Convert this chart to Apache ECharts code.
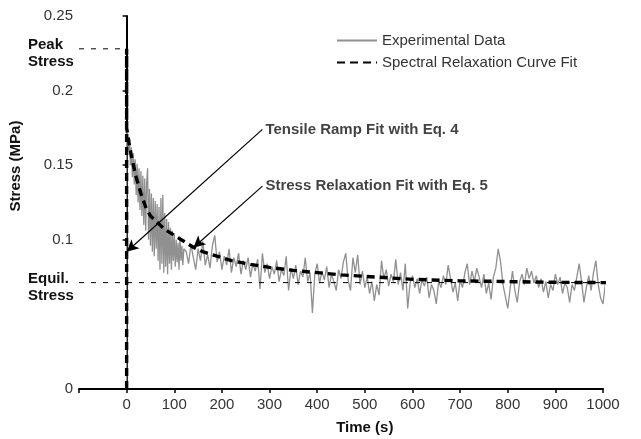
<!DOCTYPE html>
<html>
<head>
<meta charset="utf-8">
<script src="https://cdn.jsdelivr.net/npm/echarts@6/dist/echarts.min.js"></script>
<style>html,body{margin:0;padding:0;background:#fff;}#c{width:641px;height:439px;}</style>
</head>
<body>
<div id="c"></div>
<script>
// ---- data ----
const xTicks = [0,100,200,300,400,500,600,700,800,900,1000];
const yTicks = [0,0.1,0.15,0.2,0.25];
const peakStress = 0.228;
const equilStress = 0.0713;

const expTime = [0,0,2,4,6,8,10,12,14,16,18,20,22,24,26,28,30,32,34,36,38,40,42,44,46,48,50,52,54,56,58,60,62,64,66,68,70,72,74,76,78,80,82,84,86,88,90,92,94,96,98,100,102,104,106,108,110,112,114,116,118,120,
125,130,135,140,145,150,155,160,165,170,175,180,185,190,195,200,205,210,215,220,225,230,235,240,245,250,255,260,265,270,275,280,285,290,295,300,
305,310,315,320,325,330,335,340,345,350,355,360,365,370,375,380,385,390,395,400,405,410,415,420,425,430,435,440,445,450,455,460,465,470,475,480,485,490,495,500,
505,510,515,520,525,530,535,540,545,550,555,560,565,570,575,580,585,590,595,600,605,610,615,620,625,630,635,640,645,650,655,660,665,670,675,680,685,690,695,700,
705,710,715,720,725,730,735,740,745,750,755,760,765,770,775,780,785,790,795,800,805,810,815,820,825,830,835,840,845,850,855,860,865,870,875,880,885,890,895,900,
905,910,915,920,925,930,935,940,945,950,955,960,965,970,975,980,985,990,995,1000,1005,1010,1015,1020,1025,1030,1035];
const expStress = [0,0.176,0.170,0.160,0.168,0.150,0.162,0.142,0.158,0.137,0.154,0.130,0.151,0.125,0.148,0.120,0.146,0.116,0.143,0.110,0.141,0.106,0.138,0.148,0.100,0.134,0.096,0.131,0.092,0.128,0.089,0.126,0.094,0.124,0.086,0.122,0.080,0.128,0.084,0.130,0.078,0.118,0.082,0.114,0.077,0.112,0.084,0.108,0.080,0.106,0.086,0.104,0.082,0.100,0.085,0.098,0.080,0.102,0.086,0.096,0.083,0.094,
0.092,0.084,0.097,0.088,0.080,0.094,0.086,0.099,0.083,0.090,0.081,0.096,0.103,0.085,0.092,0.080,0.089,0.083,0.094,0.078,0.088,0.082,0.091,0.077,0.086,0.080,0.088,0.075,0.084,0.079,0.087,0.067,0.091,0.078,0.084,0.074,
0.082,0.077,0.086,0.072,0.080,0.076,0.089,0.066,0.081,0.074,0.083,0.070,0.079,0.075,0.088,0.072,0.078,0.051,0.077,0.084,0.071,0.079,0.073,0.082,0.068,0.077,0.072,0.066,0.080,0.074,0.085,0.091,0.073,0.066,0.088,0.078,0.090,0.070,0.079,0.068,
0.075,0.064,0.072,0.059,0.070,0.063,0.086,0.074,0.080,0.069,0.077,0.072,0.087,0.070,0.078,0.066,0.084,0.054,0.071,0.076,0.068,0.074,0.064,0.073,0.069,0.075,0.061,0.070,0.066,0.057,0.072,0.068,0.076,0.070,0.083,0.074,0.065,0.071,0.059,0.073,
0.068,0.078,0.084,0.070,0.079,0.072,0.081,0.075,0.068,0.077,0.064,0.071,0.060,0.075,0.081,0.094,0.085,0.070,0.062,0.054,0.067,0.079,0.066,0.058,0.072,0.077,0.070,0.081,0.074,0.079,0.071,0.076,0.068,0.074,0.065,0.072,0.061,0.070,0.066,0.077,
0.070,0.075,0.064,0.071,0.068,0.058,0.070,0.066,0.075,0.084,0.072,0.058,0.068,0.076,0.066,0.078,0.086,0.070,0.061,0.057,0.071,0.079,0.067,0.082,0.075,0.091,0.087];

const fitTime = [0,0,0,5,10,20,30,40,50,60,70,80,90,100,120,140,160,180,200,220,260,300,350,400,450,500,550,600,700,800,900,1000,1035];
const fitStress = [0,0.228,0.175,0.165,0.156,0.142,0.131,0.122,0.116,0.113,0.110,0.107,0.105,0.103,0.099,0.095,0.092,0.090,0.088,0.086,0.0835,0.0815,0.0795,0.078,0.0765,0.0755,0.0745,0.0735,0.0725,0.072,0.0715,0.0713,0.0713];

const annotTexts = ['Tensile Ramp Fit with Eq. 4', 'Stress Relaxation Fit with Eq. 5'];
const annotFrom = [[285,0.174],[285,0.136]];
const annotTo = [[0,0.092],[140,0.0947]];

// ---- chart ----
const FONT = '"Liberation Sans", Arial, sans-serif';
const chart = echarts.init(document.getElementById('c'));
const expData = expTime.map((t,i)=>[t, expStress[i]]);
const fitData = fitTime.map((t,i)=>[t, fitStress[i]]);

const option = {
  animation: false,
  backgroundColor: '#fff',
  textStyle: {fontFamily: FONT},
  grid: {left: 79, right: 38, top: 16, bottom: 50},
  legend: {
    orient: 'vertical', left: 331, top: 28, itemWidth: 40, itemHeight: 14, itemGap: 7,
    itemStyle: {opacity: 0},
    textStyle: {fontSize: 15, color: '#333', fontFamily: FONT},
    data: ['Experimental Data', 'Spectral Relaxation Curve Fit']
  },
  xAxis: {
    type: 'value', min: -100, max: 1000, interval: 100,
    axisLine: {lineStyle: {color: '#000', width: 2}},
    axisTick: {length: 4, lineStyle: {color: '#000', width: 1.5}},
    axisLabel: {fontSize: 15, color: '#333', margin: 8, fontFamily: FONT,
      formatter: v => (v < 0 ? '' : String(v))},
    splitLine: {show: false}
  },
  yAxis: {
    type: 'value', min: 0, max: 0.25, interval: 0.05,
    axisLine: {show: true, lineStyle: {color: '#000', width: 2}},
    axisTick: {show: true, length: 4, customValues: yTicks, lineStyle: {color: '#000', width: 1.5}},
    axisLabel: {fontSize: 15, color: '#333', margin: 6, customValues: yTicks, fontFamily: FONT,
      formatter: v => String(+v.toFixed(2))},
    splitLine: {show: false}
  },
  series: [
    {
      name: 'Experimental Data', type: 'line', data: expData, symbol: 'none', clip: false,
      lineStyle: {color: '#909090', width: 1.3}, itemStyle: {color: '#909090'}, z: 2
    },
    {
      name: 'Spectral Relaxation Curve Fit', type: 'line', data: fitData, symbol: 'none', clip: false,
      lineStyle: {color: '#000', width: 3.4, type: [8, 5]}, itemStyle: {color: '#000'}, z: 4
    },
    {
      name: 'peak', type: 'line', data: [[-100, peakStress], [0, peakStress]], symbol: 'none',
      lineStyle: {color: '#000', width: 1, type: [5, 7]}, z: 3, silent: true
    },
    {
      name: 'equil', type: 'line', data: [[-100, equilStress], [1000, equilStress]], symbol: 'none',
      lineStyle: {color: '#000', width: 1, type: [5, 7]}, z: 3, silent: true
    },
    {
      name: 'annot', type: 'scatter', symbolSize: 0, silent: true, z: 6,
      data: annotFrom.map((p, i) => ({value: p, name: annotTexts[i]})),
      label: {show: true, position: 'right', distance: 3, formatter: p => p.name,
        fontSize: 15, fontWeight: 'bold', color: '#111', fontFamily: FONT},
      markLine: {
        silent: true, symbol: ['none', 'arrow'], symbolSize: [9, 12], precision: 4,
        label: {show: false},
        lineStyle: {color: '#000', width: 1.2, type: 'solid'},
        data: annotFrom.map((p, i) => [{coord: p}, {coord: annotTo[i]}])
      }
    }
  ]
};
chart.setOption(option);

const pk = chart.convertToPixel({gridIndex: 0}, [-100, peakStress]);
const eq = chart.convertToPixel({gridIndex: 0}, [-100, equilStress]);
const x0 = chart.convertToPixel({gridIndex: 0}, [0, 0]);
const x1000 = chart.convertToPixel({gridIndex: 0}, [1000, 0]);
const yTop = chart.convertToPixel({gridIndex: 0}, [0, 0.25]);
const boldFont = 'bold 15px ' + FONT;
chart.setOption({
  graphic: [
    {type: 'text', x: 28, y: pk[1] - 12, style: {text: 'Peak\nStress', font: boldFont, fill: '#111', lineHeight: 17, textAlign: 'left', textVerticalAlign: 'top'}},
    {type: 'text', x: 28, y: eq[1] - 12, style: {text: 'Equil.\nStress', font: boldFont, fill: '#111', lineHeight: 17, textAlign: 'left', textVerticalAlign: 'top'}},
    {type: 'text', x: (x0[0] + x1000[0]) / 2, y: x0[1] + 39, style: {text: 'Time (s)', font: boldFont, fill: '#111', textAlign: 'center', textVerticalAlign: 'middle'}},
    {type: 'text', x: 16, y: yTop[1] + 150, rotation: Math.PI / 2, style: {text: 'Stress (MPa)', font: boldFont, fill: '#111', textAlign: 'center', textVerticalAlign: 'middle'}}
  ]
});
</script>
</body>
</html>
